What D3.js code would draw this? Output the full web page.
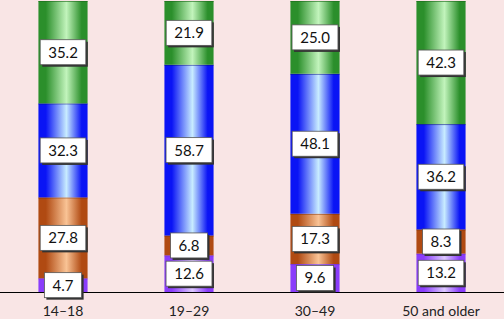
<!DOCTYPE html>
<html>
<head>
<meta charset="utf-8">
<script src="https://cdn.jsdelivr.net/npm/d3@7"></script>
<style>
  body { margin: 0; background: #f9e5e5; }
  text { font-family: Lato, "Open Sans", sans-serif; }
</style>
</head>
<body>
<div id="chart"></div>
<script>
// Age groups and the share of each series (bottom to top).
let categories = ["14\u201318", "19\u201329", "30\u201349", "50 and older"];
let seriesNames = ["purple", "brown", "blue", "green"];
let purpleValues = [4.7, 12.6, 9.6, 13.2];
let brownValues = [27.8, 6.8, 17.3, 8.3];
let blueValues = [32.3, 58.7, 48.1, 36.2];
let greenValues = [35.2, 21.9, 25.0, 42.3];

let width = 504,
    height = 319,
    baseline = 292;

// edge colour, highlight colour, segment outline
let palette = {
    purple: ["#8a3dfb", "#dcc8ff", "#6a2ad0"],
    brown: ["#b04a12", "#f9c395", "#7a3008"],
    blue: ["#0a14f5", "#c8ecff", "#00107a"],
    green: ["#2b8f2b", "#c2f4bc", "#1c6a1c"]
};

// Build rows for the stack layout.
let rows = categories.map(function (c, i) {
    return {
        cat: c,
        purple: purpleValues[i],
        brown: brownValues[i],
        blue: blueValues[i],
        green: greenValues[i]
    };
});

let x = d3.scaleBand()
    .domain(categories)
    .range([0, width])
    .paddingInner(0.61)
    .paddingOuter(0.305);

let y = d3.scaleLinear().domain([0, 100]).range([baseline, 1]);

let svg = d3.select("#chart").append("svg")
    .attr("width", width)
    .attr("height", height);

// Horizontal "cylinder" gradients for each series.
let defs = svg.append("defs");
seriesNames.forEach(function (s) {
    let g = defs.append("linearGradient")
        .attr("id", "grad-" + s)
        .attr("x1", "0%").attr("x2", "100%")
        .attr("y1", "0%").attr("y2", "0%");
    g.append("stop").attr("offset", "0%").attr("stop-color", palette[s][0]);
    g.append("stop").attr("offset", "15%").attr("stop-color", palette[s][0]);
    g.append("stop").attr("offset", "57%").attr("stop-color", palette[s][1]);
    g.append("stop").attr("offset", "88%").attr("stop-color", palette[s][0]);
    g.append("stop").attr("offset", "100%").attr("stop-color", palette[s][0]);
});

let stack = d3.stack().keys(seriesNames);
let layers = stack(rows);

let layer = svg.selectAll(".layer")
    .data(layers)
    .enter().append("g")
    .attr("class", "layer");

layer.selectAll("rect")
    .data(function (d) { return d.map(function (p) { p.key = d.key; return p; }); })
    .enter().append("rect")
    .attr("x", function (d) { return x(d.data.cat); })
    .attr("y", function (d) { return y(d[1]); })
    .attr("width", x.bandwidth())
    .attr("height", function (d) { return y(d[0]) - y(d[1]); })
    .style("fill", function (d) { return "url(#grad-" + d.key + ")"; });

// Thin dark line at the top of each segment.
layer.selectAll("line")
    .data(function (d) { return d; })
    .enter().append("line")
    .attr("x1", function (d) { return x(d.data.cat); })
    .attr("x2", function (d) { return x(d.data.cat) + x.bandwidth(); })
    .attr("y1", function (d) { return y(d[1]) + 0.5; })
    .attr("y2", function (d) { return y(d[1]) + 0.5; })
    .style("stroke", function (d) { return palette[d.key][2]; })
    .style("stroke-width", 1)
    .style("opacity", 0.6);

// Baseline axis.
svg.append("line")
    .attr("x1", 0).attr("x2", width)
    .attr("y1", baseline + 0.5).attr("y2", baseline + 0.5)
    .style("stroke", "#000")
    .style("stroke-width", 1);

svg.append("g")
    .selectAll("text")
    .data(categories)
    .enter().append("text")
    .attr("x", function (d) { return x(d) + x.bandwidth() / 2; })
    .attr("y", 316)
    .attr("text-anchor", "middle")
    .style("font-size", "14px")
    .style("fill", "#222")
    .text(function (d) { return d; });

// Value labels in white boxes with a shadow.
let labels = [];
layers.forEach(function (l) {
    l.forEach(function (p) {
        labels.push({
            cx: x(p.data.cat) + x.bandwidth() / 2,
            cy: (y(p[0]) + y(p[1])) / 2,
            value: p.data[l.key]
        });
    });
});

let lab = svg.selectAll(".lab")
    .data(labels)
    .enter().append("g")
    .attr("class", "lab")
    .attr("transform", function (d) { return "translate(" + d.cx + "," + d.cy + ")"; });

lab.append("text")
    .attr("class", "val")
    .attr("text-anchor", "middle")
    .attr("dy", "0.36em")
    .style("font-size", "15px")
    .style("fill", "#111")
    .text(function (d) { return d.value.toFixed(1); });

lab.each(function () {
    let g = d3.select(this);
    let bb = g.select("text").node().getBBox();
    let w = bb.width + 16, h = 25;
    g.insert("rect", "text")
        .attr("x", -w / 2 + 2).attr("y", -h / 2 + 2)
        .attr("width", w).attr("height", h)
        .style("fill", "#333");
    g.insert("rect", "text")
        .attr("x", -w / 2).attr("y", -h / 2)
        .attr("width", w).attr("height", h)
        .style("fill", "#fff")
        .style("stroke", "#555")
        .style("stroke-width", 0.8);
});
</script>
</body>
</html>
